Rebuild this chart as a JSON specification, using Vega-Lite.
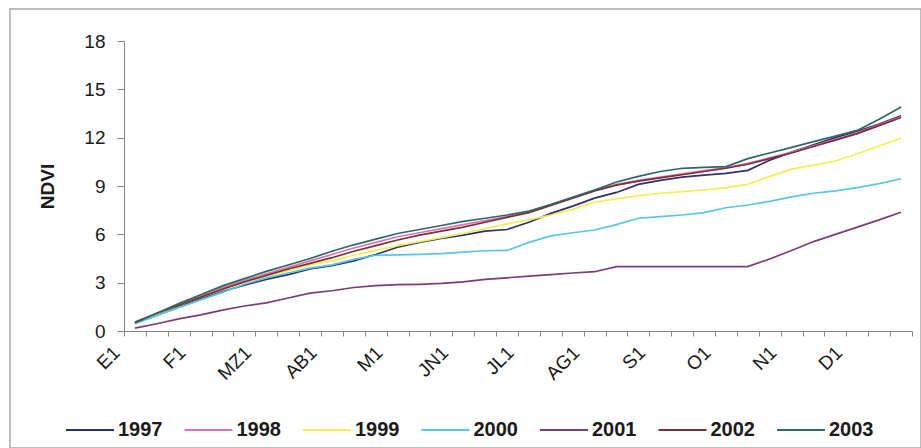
{
  "$schema": "https://vega.github.io/schema/vega-lite/v6.json",
  "width": 911,
  "height": 439,
  "autosize": {"type": "none"},
  "padding": {"left": 10, "top": 9, "right": 0, "bottom": 0},
  "background": "white",
  "config": {
    "font": "Liberation Sans",
    "view": {"stroke": "#a8a8a8", "strokeWidth": 1.5},
    "axis": {
      "grid": false,
      "domainColor": "#858585",
      "tickColor": "#858585",
      "labelColor": "#1a1a1a",
      "titleColor": "#1a1a1a"
    }
  },
  "data": {
    "values": [
      {"d": "E1", "1997": 0.5, "1998": 0.5, "1999": 0.5, "2000": 0.45, "2001": 0.18, "2002": 0.55, "2003": 0.5},
      {"d": "E2", "1997": 1.05, "1998": 1.1, "1999": 1.05, "2000": 0.95, "2001": 0.45, "2002": 1.1, "2003": 1.1},
      {"d": "E3", "1997": 1.55, "1998": 1.65, "1999": 1.6, "2000": 1.44, "2001": 0.75, "2002": 1.6, "2003": 1.7},
      {"d": "F1", "1997": 2.0, "1998": 2.2, "1999": 2.1, "2000": 1.93, "2001": 1.0, "2002": 2.1, "2003": 2.25},
      {"d": "F2", "1997": 2.45, "1998": 2.7, "1999": 2.6, "2000": 2.4, "2001": 1.3, "2002": 2.6, "2003": 2.8},
      {"d": "F3", "1997": 2.85, "1998": 3.15, "1999": 3.05, "2000": 2.9, "2001": 1.55, "2002": 3.05, "2003": 3.25},
      {"d": "MZ1", "1997": 3.2, "1998": 3.55, "1999": 3.4, "2000": 3.3, "2001": 1.75, "2002": 3.45, "2003": 3.7},
      {"d": "MZ2", "1997": 3.5, "1998": 3.95, "1999": 3.75, "2000": 3.6, "2001": 2.05, "2002": 3.85, "2003": 4.1},
      {"d": "MZ3", "1997": 3.85, "1998": 4.35, "1999": 4.1, "2000": 3.9, "2001": 2.35, "2002": 4.2, "2003": 4.5},
      {"d": "AB1", "1997": 4.05, "1998": 4.75, "1999": 4.35, "2000": 4.1, "2001": 2.5, "2002": 4.55, "2003": 4.95},
      {"d": "AB2", "1997": 4.35, "1998": 5.15, "1999": 4.7, "2000": 4.45, "2001": 2.7, "2002": 4.95, "2003": 5.35},
      {"d": "AB3", "1997": 4.75, "1998": 5.5, "1999": 5.0, "2000": 4.7, "2001": 2.82, "2002": 5.3, "2003": 5.7},
      {"d": "M1", "1997": 5.2, "1998": 5.85, "1999": 5.3, "2000": 4.72, "2001": 2.88, "2002": 5.65, "2003": 6.05},
      {"d": "M2", "1997": 5.5, "1998": 6.1, "1999": 5.55, "2000": 4.75, "2001": 2.9, "2002": 5.95, "2003": 6.3},
      {"d": "M3", "1997": 5.75, "1998": 6.35, "1999": 5.8, "2000": 4.8, "2001": 2.95, "2002": 6.2, "2003": 6.55},
      {"d": "JN1", "1997": 5.95, "1998": 6.6, "1999": 6.05, "2000": 4.9, "2001": 3.05, "2002": 6.45, "2003": 6.8},
      {"d": "JN2", "1997": 6.2, "1998": 6.85, "1999": 6.35, "2000": 4.98, "2001": 3.2, "2002": 6.75, "2003": 7.0},
      {"d": "JN3", "1997": 6.3, "1998": 7.1, "1999": 6.65, "2000": 5.0, "2001": 3.3, "2002": 7.05, "2003": 7.2},
      {"d": "JL1", "1997": 6.75, "1998": 7.4, "1999": 6.9, "2000": 5.5, "2001": 3.4, "2002": 7.35, "2003": 7.45},
      {"d": "JL2", "1997": 7.3, "1998": 7.85, "1999": 7.2, "2000": 5.9, "2001": 3.5, "2002": 7.8, "2003": 7.85},
      {"d": "JL3", "1997": 7.75, "1998": 8.3, "1999": 7.55, "2000": 6.1, "2001": 3.6, "2002": 8.25, "2003": 8.3},
      {"d": "AG1", "1997": 8.25, "1998": 8.75, "1999": 8.0, "2000": 6.27, "2001": 3.68, "2002": 8.7, "2003": 8.75},
      {"d": "AG2", "1997": 8.6, "1998": 9.1, "1999": 8.2, "2000": 6.6, "2001": 4.0, "2002": 9.05, "2003": 9.25},
      {"d": "AG3", "1997": 9.1, "1998": 9.35, "1999": 8.4, "2000": 7.0, "2001": 4.0, "2002": 9.3, "2003": 9.6},
      {"d": "S1", "1997": 9.35, "1998": 9.55, "1999": 8.55, "2000": 7.1, "2001": 4.0, "2002": 9.5, "2003": 9.9},
      {"d": "S2", "1997": 9.55, "1998": 9.75, "1999": 8.65, "2000": 7.2, "2001": 4.0, "2002": 9.7, "2003": 10.1},
      {"d": "S3", "1997": 9.68, "1998": 9.95, "1999": 8.75, "2000": 7.35, "2001": 4.0, "2002": 9.9, "2003": 10.15},
      {"d": "O1", "1997": 9.78, "1998": 10.15, "1999": 8.9, "2000": 7.65, "2001": 4.0, "2002": 10.1, "2003": 10.2},
      {"d": "O2", "1997": 9.97, "1998": 10.4, "1999": 9.1, "2000": 7.82, "2001": 4.0, "2002": 10.35, "2003": 10.7},
      {"d": "O3", "1997": 10.6, "1998": 10.75, "1999": 9.6, "2000": 8.05, "2001": 4.47, "2002": 10.7, "2003": 11.05},
      {"d": "N1", "1997": 11.1, "1998": 11.1, "1999": 10.05, "2000": 8.32, "2001": 5.0, "2002": 11.05, "2003": 11.4},
      {"d": "N2", "1997": 11.55, "1998": 11.5, "1999": 10.3, "2000": 8.55, "2001": 5.55, "2002": 11.45, "2003": 11.75},
      {"d": "N3", "1997": 12.0, "1998": 11.9, "1999": 10.55, "2000": 8.7, "2001": 6.0, "2002": 11.85, "2003": 12.1},
      {"d": "D1", "1997": 12.4, "1998": 12.3, "1999": 11.0, "2000": 8.9, "2001": 6.45, "2002": 12.25, "2003": 12.45},
      {"d": "D2", "1997": 12.85, "1998": 12.8, "1999": 11.5, "2000": 9.15, "2001": 6.9, "2002": 12.75, "2003": 13.15},
      {"d": "D3", "1997": 13.35, "1998": 13.3, "1999": 11.96, "2000": 9.45, "2001": 7.37, "2002": 13.25, "2003": 13.9}
    ]
  },
  "transform": [
    {"fold": ["1997", "1998", "1999", "2000", "2001", "2002", "2003"], "as": ["year", "ndvi"]}
  ],
  "mark": {"type": "line", "strokeWidth": 1.7},
  "encoding": {
    "x": {
      "field": "d",
      "type": "ordinal",
      "scale": {
        "type": "band",
        "domain": ["E1", "E2", "E3", "F1", "F2", "F3", "MZ1", "MZ2", "MZ3", "AB1", "AB2", "AB3", "M1", "M2", "M3", "JN1", "JN2", "JN3", "JL1", "JL2", "JL3", "AG1", "AG2", "AG3", "S1", "S2", "S3", "O1", "O2", "O3", "N1", "N2", "N3", "D1", "D2", "D3"],
        "range": [114, 902],
        "paddingInner": 0,
        "paddingOuter": 0
      },
      "axis": {
        "title": null,
        "offset": -117,
        "tickBand": "extent",
        "tickSize": 5,
        "labelAngle": -45,
        "labelAlign": "right",
        "labelBaseline": "top",
        "labelOffset": -25,
        "labelPadding": 7,
        "labelFontSize": 19,
        "labelOverlap": false,
        "labelExpr": "slice(datum.label, -1) == '1' ? datum.label : ''"
      }
    },
    "y": {
      "field": "ndvi",
      "type": "quantitative",
      "scale": {"domain": [0, 18], "range": [322, 32], "nice": false, "zero": true},
      "axis": {
        "title": "NDVI",
        "titleFontSize": 19,
        "titleFontWeight": "bold",
        "titlePadding": 26,
        "offset": -114,
        "values": [0, 3, 6, 9, 12, 15, 18],
        "tickSize": 7,
        "labelPadding": 12,
        "labelFontSize": 19
      }
    },
    "color": {
      "field": "year",
      "type": "nominal",
      "scale": {
        "domain": ["1997", "1998", "1999", "2000", "2001", "2002", "2003"],
        "range": ["#2e3070", "#e070b8", "#f0f055", "#58c6e4", "#7a3d7a", "#7a3232", "#2d6868"]
      },
      "legend": {
        "title": null,
        "orient": "none",
        "legendX": 55,
        "legendY": 396,
        "direction": "horizontal",
        "columns": 7,
        "symbolType": "stroke",
        "symbolSize": 2300,
        "symbolStrokeWidth": 2,
        "labelFontSize": 20,
        "labelFontWeight": "bold",
        "labelColor": "#1a1a1a",
        "labelOffset": 3,
        "columnPadding": 17.5
      }
    }
  }
}
